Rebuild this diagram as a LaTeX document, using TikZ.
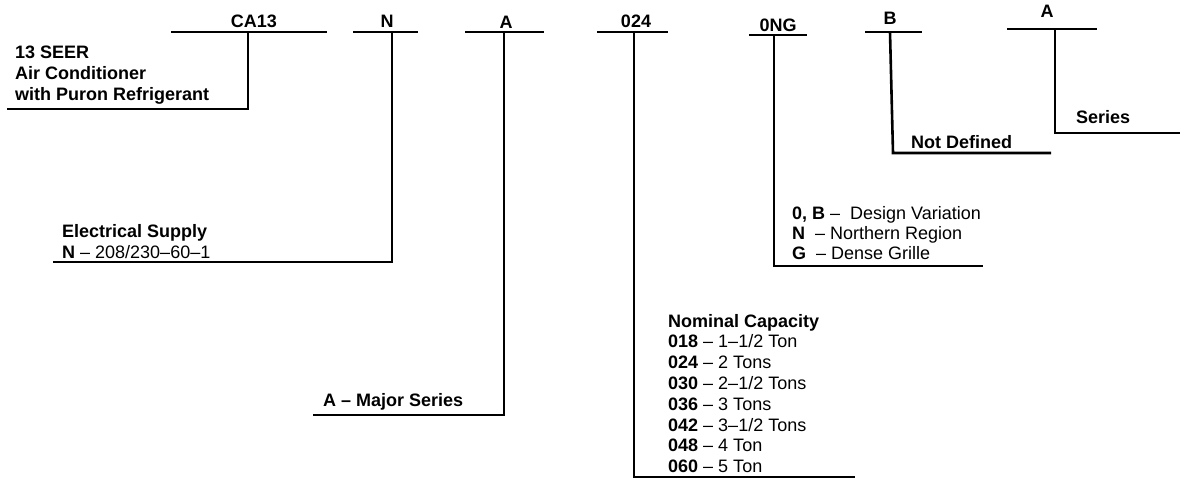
\documentclass[tikz,border=0pt]{standalone}
\usepackage{fontspec}
\setmainfont{Liberation Sans}
\usetikzlibrary{positioning}
\tikzset{
  bar/.style={line width=2.6pt},
  code/.style={font=\bfseries, anchor=base, inner sep=0pt},
  desc/.style={anchor=base west, inner sep=0pt},
}

\begin{document}
\fontsize{18}{21}\selectfont
\begin{tikzpicture}[x=1pt, y=-1pt]
  \useasboundingbox (0,0) rectangle (1180,480);
  % CA13: product type
  \node[code] (ca13) at (254,27) {CA13};
  \coordinate (ca13L) at (171,32);
  \coordinate (ca13R) at (327,32);
  \coordinate (ca13T) at (248,32);
  \coordinate (ca13E) at (7,109);
  \draw[bar] (ca13L) -- (ca13R);
  \draw[bar] (ca13T) |- (ca13E);
  \node[desc, font=\bfseries] (seer) at (15,58) {13 SEER};
  \node[desc, font=\bfseries] (airc) at (15,79) {Air Conditioner};
  \node[desc, font=\bfseries] (puron) at (15,100) {with Puron Refrigerant};
  % N: electrical supply
  \node[code] (volt) at (387,27) {N};
  \coordinate (voltL) at (353,32);
  \coordinate (voltR) at (418,32);
  \coordinate (voltT) at (392,32);
  \coordinate (voltE) at (53,262);
  \draw[bar] (voltL) -- (voltR);
  \draw[bar] (voltT) |- (voltE);
  \node[desc, font=\bfseries] (elec) at (62,237) {Electrical Supply};
  \node[desc] (elecN) at (62,258) {\textbf{N} -- 208/230--60--1};
  % A: major series
  \node[code] (major) at (506,28) {A};
  \coordinate (majorL) at (465,32);
  \coordinate (majorR) at (544,32);
  \coordinate (majorT) at (504,32);
  \coordinate (majorE) at (313,415);
  \draw[bar] (majorL) -- (majorR);
  \draw[bar] (majorT) |- (majorE);
  \node[desc, font=\bfseries] (majorA) at (323,406) {A -- Major Series};
  % 024: nominal capacity
  \node[code] (cap) at (636,27) {024};
  \coordinate (capL) at (597,32);
  \coordinate (capR) at (668,32);
  \coordinate (capT) at (634,32);
  \coordinate (capE) at (855,477);
  \draw[bar] (capL) -- (capR);
  \draw[bar] (capT) |- (capE);
  \node[desc, font=\bfseries] (capH) at (668,327) {Nominal Capacity};
  \foreach \c/\t [count=\i] in {018/{1--1/2 Ton}, 024/{2 Tons}, 030/{2--1/2 Tons},
      036/{3 Tons}, 042/{3--1/2 Tons}, 048/{4 Ton}, 060/{5 Ton}}
    \node[desc] (cap\i) at (668,327+20.8*\i) {\textbf{\c} -- \t};
  % 0NG: variations
  \node[code] (var) at (778,31) {0NG};
  \coordinate (varL) at (749,35);
  \coordinate (varR) at (807,35);
  \coordinate (varT) at (774,35);
  \coordinate (varE) at (983,266);
  \draw[bar] (varL) -- (varR);
  \draw[bar] (varT) |- (varE);
  \node[desc] (varB) at (792,219) {\textbf{0, B} --\ \ Design Variation};
  \node[desc] (varN) at (792,239) {\textbf{N} \ -- Northern Region};
  \node[desc] (varG) at (792,259) {\textbf{G} \ -- Dense Grille};
  % B: not defined
  \node[code] (undef) at (890,24) {B};
  \coordinate (undefL) at (865,32);
  \coordinate (undefR) at (922,32);
  \coordinate (undefT) at (890,32);
  \coordinate (undefB) at (893,153);
  \coordinate (undefE) at (1051,153);
  \draw[bar] (undefL) -- (undefR);
  \draw[bar] (undefT) -- (undefB) -- (undefE);
  \node[desc, font=\bfseries] (undefD) at (911,148) {Not Defined};
  % A: series
  \node[code] (ser) at (1047,17) {A};
  \coordinate (serL) at (1007,29);
  \coordinate (serR) at (1097,29);
  \coordinate (serT) at (1055,29);
  \coordinate (serE) at (1180,133);
  \draw[bar] (serL) -- (serR);
  \draw[bar] (serT) |- (serE);
  \node[desc, font=\bfseries] (serS) at (1076,123) {Series};
\end{tikzpicture}
\end{document}
